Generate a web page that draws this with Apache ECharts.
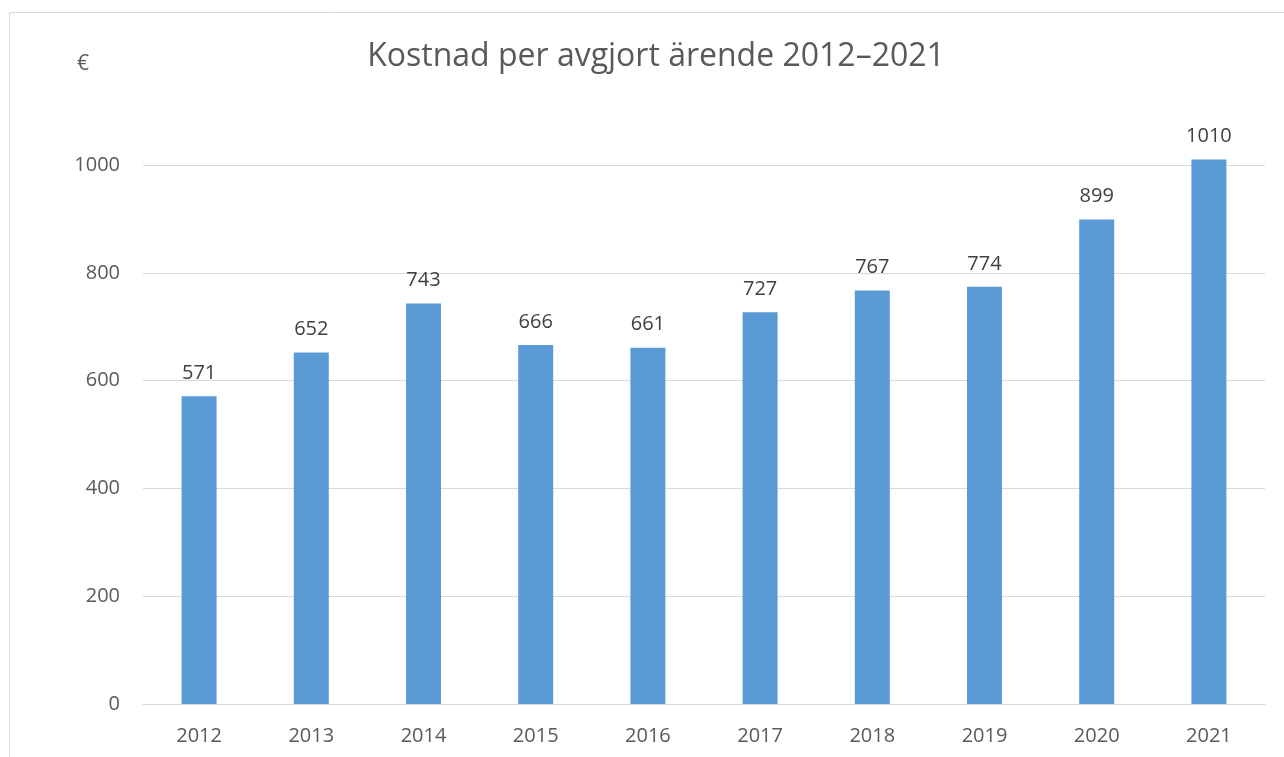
<!DOCTYPE html>
<html><head><meta charset="utf-8">
<script src="https://cdn.jsdelivr.net/npm/echarts@6/dist/echarts.min.js"></script>
<style>html,body{margin:0;padding:0;background:#fff}#c{width:1284px;height:757px}</style>
</head><body><div id="c"></div>
<script>
const categories = ['2012','2013','2014','2015','2016','2017','2018','2019','2020','2021'];
const values = [571, 652, 743, 666, 661, 727, 767, 774, 899, 1010];
const yTicks = [0, 200, 400, 600, 800, 1000];
const titleText = 'Kostnad per avgjort ärende 2012–2021';
const unitText = '€';

const chart = echarts.init(document.getElementById('c'));
const font = 'Open Sans, Liberation Sans, sans-serif';
chart.setOption({
  animation: false,
  backgroundColor: '#fff',
  graphic: [{
    type: 'rect', shape: {x: 9.5, y: 12.5, width: 1400, height: 900},
    style: {fill: 'none', stroke: '#d9d9d9', lineWidth: 1}, silent: true
  }],
  title: [{
    text: titleText, left: 651, top: 36, textAlign: 'center',
    textStyle: {fontFamily: font, fontSize: 32, fontWeight: 'normal', color: '#595959'}
  }, {
    text: unitText, left: 72, top: 49,
    textStyle: {fontFamily: font, fontSize: 21, fontWeight: 'normal', color: '#595959'}
  }],
  grid: {left: 143, right: 19, top: 165, bottom: 53, containLabel: false},
  xAxis: {
    type: 'category', data: categories,
    axisLine: {show: true, lineStyle: {color: '#d9d9d9', width: 1}},
    axisTick: {show: false},
    axisLabel: {fontFamily: font, fontSize: 20, color: '#595959', margin: 22}
  },
  yAxis: {
    type: 'value', min: 0, max: 1000, interval: 200,
    axisLine: {show: false}, axisTick: {show: false},
    axisLabel: {fontFamily: font, fontSize: 20, color: '#595959', margin: 23,
      formatter: v => yTicks.includes(v) ? String(v) : ''},
    splitLine: {lineStyle: {color: '#d9d9d9', width: 1}}
  },
  series: [{
    type: 'bar', data: values, barWidth: 35, clip: false,
    itemStyle: {color: '#5b9bd5'},
    label: {show: true, position: 'top', distance: 13,
      fontFamily: font, fontSize: 20, color: '#404040'}
  }]
});
</script></body></html>
